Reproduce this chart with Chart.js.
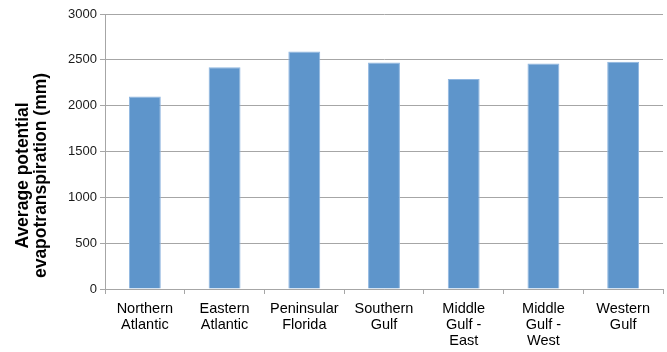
<!DOCTYPE html>
<html>
<head>
<meta charset="utf-8">
<script src="https://cdn.jsdelivr.net/npm/chart.js@4/dist/chart.umd.min.js"></script>
<style>
  html, body { margin: 0; padding: 0; background: #fff; }
  #wrap { width: 667px; height: 352px; position: relative; }
</style>
</head>
<body>
<div id="wrap"><canvas id="grafico"></canvas></div>
<script>
// regions along the coast
const regioes = [
    ["Northern", "Atlantic"],
    ["Eastern", "Atlantic"],
    ["Peninsular", "Florida"],
    ["Southern", "Gulf"],
    ["Middle", "Gulf -", "East"],
    ["Middle", "Gulf -", "West"],
    ["Western", "Gulf"]
];
// average potential evapotranspiration, mm
const evapo = [2100, 2420, 2590, 2470, 2290, 2460, 2480];
const yTicks = [0, 500, 1000, 1500, 2000, 2500, 3000];
const yTitulo = ["Average potential", "evapotranspiration (mm)"];

const corEixo = "#a6a6a6";
const fonte = "'Liberation Sans', Arial, sans-serif";

// y title is drawn by hand so it can sit a bit below the plot centre
const tituloY = {
    id: "tituloY",
    afterDraw(chart) {
        const { ctx, chartArea } = chart;
        ctx.save();
        ctx.translate(32, (chartArea.top + chartArea.bottom) / 2 + 24);
        ctx.rotate(-Math.PI / 2);
        ctx.font = "bold 17.5px " + fonte;
        ctx.fillStyle = "#000";
        ctx.textAlign = "center";
        ctx.textBaseline = "middle";
        ctx.fillText(yTitulo[0], 0, -9);
        ctx.fillText(yTitulo[1], 0, 9);
        ctx.restore();
    }
};

new Chart(document.getElementById("grafico").getContext("2d"), {
    type: "bar",
    data: {
        labels: regioes,
        datasets: [{
            data: evapo,
            backgroundColor: "#5e95cb",
            borderColor: "#8fb6e0",
            borderWidth: { top: 1, left: 1, right: 1, bottom: 0 },
            categoryPercentage: 0.4,
            barPercentage: 1
        }]
    },
    options: {
        responsive: true,
        maintainAspectRatio: false,
        animation: false,
        layout: { padding: { left: 0, right: 4, top: 14, bottom: 0 } },
        plugins: {
            legend: { display: false },
            tooltip: { enabled: false }
        },
        scales: {
            x: {
                afterFit: (s) => { s.height = 63; },
                grid: {
                    offset: true,
                    drawOnChartArea: false,
                    color: corEixo,
                    tickLength: 5
                },
                border: { color: corEixo },
                ticks: {
                    color: "#000",
                    font: { family: fonte, size: 14.5, lineHeight: 1.1 },
                    maxRotation: 0,
                    autoSkip: false,
                    padding: 7
                }
            },
            y: {
                min: 0,
                max: 3000,
                afterFit: (s) => { s.width = 105; },
                afterBuildTicks: (s) => { s.ticks = yTicks.map(v => ({ value: v })); },
                grid: { color: corEixo, tickLength: 5 },
                border: { color: corEixo },
                ticks: {
                    color: "#1a1a1a",
                    font: { family: fonte, size: 13 },
                    padding: 3,
                    callback: (v) => String(v)
                }
            }
        }
    },
    plugins: [tituloY]
});
</script>
</body>
</html>
